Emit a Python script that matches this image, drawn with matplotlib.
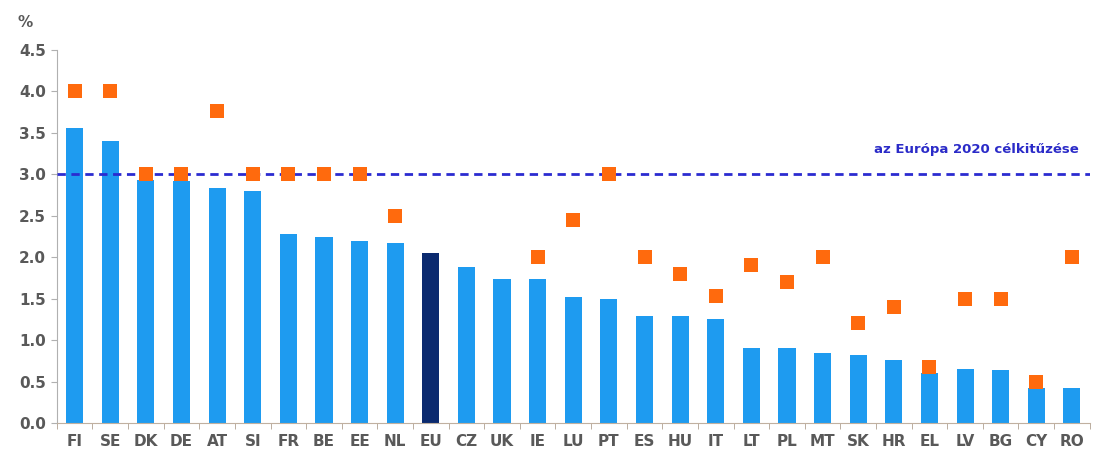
import matplotlib.pyplot as plt
import numpy as np

countries = ['FI', 'SE', 'DK', 'DE', 'AT', 'SI', 'FR', 'BE', 'EE', 'NL', 'EU',
             'CZ', 'UK', 'IE', 'LU', 'PT', 'ES', 'HU', 'IT', 'LT', 'PL', 'MT',
             'SK', 'HR', 'EL', 'LV', 'BG', 'CY', 'RO']
rd_spend = [3.56, 3.40, 2.93, 2.92, 2.83, 2.80, 2.28, 2.24, 2.19, 2.17, 2.05,
            1.88, 1.74, 1.74, 1.52, 1.50, 1.29, 1.29, 1.25, 0.90, 0.90, 0.84,
            0.82, 0.76, 0.60, 0.65, 0.64, 0.42, 0.42]
# national targets (None = no target shown)
targets = [4.0, 4.0, 3.0, 3.0, 3.76, 3.0, 3.0, 3.0, 3.0, 2.5, None,
           None, None, 2.0, 2.45, 3.0, 2.0, 1.8, 1.53, 1.9, 1.7, 2.0,
           1.2, 1.4, 0.67, 1.5, 1.5, 0.5, 2.0]
eu_target = 3.0
target_label = 'az Európa 2020 célkitűzése'

grey = '#595959'
x = np.arange(len(countries))
colors = ['#0B2A6F' if c == 'EU' else '#1E9BF0' for c in countries]

fig = plt.figure(figsize=(10.93, 4.57), dpi=100)
ax = fig.add_axes([0.052, 0.0744, 0.945, 0.8166])

ax.bar(x, rd_spend, width=0.48, color=colors, zorder=2)
ax.axhline(eu_target, color='#2B2BD0', linestyle=(0, (3, 2)), linewidth=2, zorder=3)

tx = [i for i, t in enumerate(targets) if t is not None]
ty = [t for t in targets if t is not None]
ax.scatter(tx, ty, marker='s', s=105, color='#FF6A0D', linewidths=0, zorder=4)

ax.text(28.2, 3.3, target_label, color='#2B2BC8', fontsize=9.5, fontweight='bold',
        ha='right', va='center')

ax.set_xlim(-0.45, 28.42)
ax.set_ylim(0, 4.5)
ax.set_yticks(np.arange(0, 4.51, 0.5))
ax.set_yticklabels([f'{v:.1f}' for v in np.arange(0, 4.51, 0.5)])
ax.set_xticks(x)
ax.set_xticklabels(countries)
ax.set_xticks(np.arange(-0.5, len(countries), 1), minor=True)

for lab in ax.get_xticklabels() + ax.get_yticklabels():
    lab.set_fontsize(11)
    lab.set_color(grey)
    lab.set_fontweight('bold')

ax.tick_params(axis='x', which='major', length=0, pad=8)
ax.tick_params(axis='x', which='minor', length=4, color='#b0a090')
ax.tick_params(axis='y', length=4, color='#b0b0b0', pad=4)

for side in ['top', 'right']:
    ax.spines[side].set_visible(False)
ax.spines['left'].set_color('#b0b0b0')
ax.spines['bottom'].set_color('#c0b0a0')

fig.text(0.016, 0.94, '%', fontsize=11, fontweight='bold', color=grey)

fig.savefig('out.png', dpi=100)
